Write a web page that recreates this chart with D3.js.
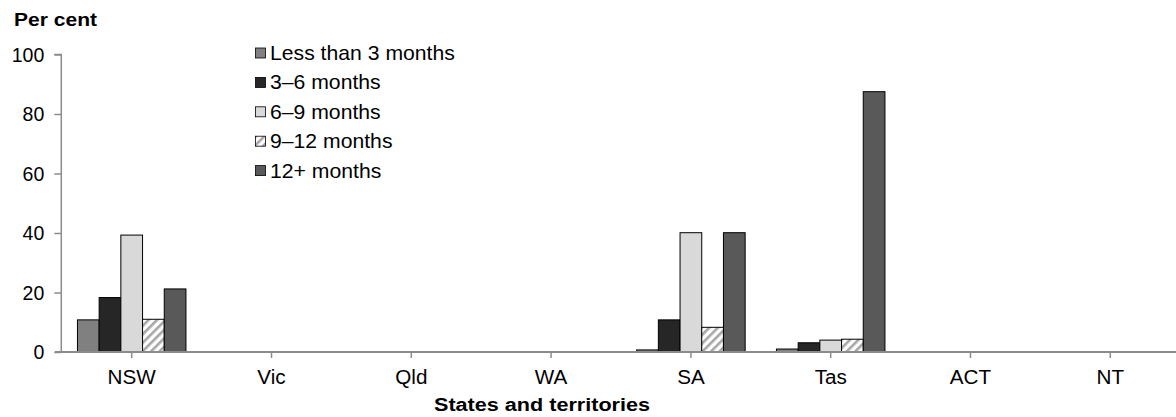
<!DOCTYPE html>
<html>
<head>
<meta charset="utf-8">
<script src="https://cdn.jsdelivr.net/npm/d3@7"></script>
<style>
  html, body { margin: 0; padding: 0; background: #fff; overflow: hidden; }
  svg { display: block; font-family: "Liberation Sans", Arial, sans-serif; }
</style>
</head>
<body>
<svg id="chart" width="1176" height="417"></svg>
<script>
const categories = ["NSW", "Vic", "Qld", "WA", "SA", "Tas", "ACT", "NT"];
const seriesNames = ["Less than 3 months", "3\u20136 months", "6\u20139 months", "9\u201312 months", "12+ months"];
const lessThan3 = [10.8, 0, 0, 0, 0.7, 1.0, 0, 0];
const m3to6     = [18.3, 0, 0, 0, 10.8, 3.1, 0, 0];
const m6to9     = [39.3, 0, 0, 0, 40.1, 4.0, 0, 0];
const m9to12    = [11.0, 0, 0, 0, 8.3, 4.3, 0, 0];
const m12plus   = [21.2, 0, 0, 0, 40.1, 87.5, 0, 0];
const yTicks = [0, 20, 40, 60, 80, 100];

const seriesValues = [lessThan3, m3to6, m6to9, m9to12, m12plus];
const fills = ["#808080", "#262626", "#d9d9d9", "url(#hatch)", "#595959"];

const svg = d3.select("#chart");
const defs = svg.append("defs");
const pat = defs.append("pattern").attr("id", "hatch")
  .attr("patternUnits", "userSpaceOnUse").attr("width", 6).attr("height", 6)
  .attr("patternTransform", "rotate(45)");
pat.append("rect").attr("width", 6).attr("height", 6).attr("fill", "#ffffff");
pat.append("rect").attr("width", 2.6).attr("height", 6).attr("fill", "#a6a6a6");

// stretch a text element horizontally around its anchor point
function stretch(sel, sx) {
  sel.each(function () {
    const t = d3.select(this);
    const ax = +t.attr("x") || 0;
    const prev = t.attr("transform") || "";
    t.attr("transform", `${prev} translate(${ax},0) scale(${sx},1) translate(${-ax},0)`);
  });
}

const x0 = 61.8, catW = 139.8;
const x = d3.scaleBand().domain(categories).range([x0, x0 + catW * categories.length]).padding(0);
const y = d3.scaleLinear().domain([0, 100]).range([352, 54.5]);
const groupPad = (catW - 5 * 21.7) / 2;
const x1 = d3.scaleBand().domain(d3.range(5)).range([groupPad, catW - groupPad]).padding(0);

const axisColor = "#8c8c8c";

// y axis
const yAxis = svg.append("g").attr("transform", `translate(${x0 - 0.5},0)`)
  .call(d3.axisLeft(y).tickValues(yTicks).tickSize(7).tickPadding(10));
yAxis.select(".domain").attr("stroke", axisColor).attr("stroke-width", 1.5).attr("d", `M-7,${y(100)}H0V${y(0)}`);
yAxis.selectAll(".tick line").attr("stroke", axisColor).attr("stroke-width", 1.5);
yAxis.selectAll(".tick text").attr("fill", "#000").style("font-size", "19.5px").attr("dy", "0.35em");

// bars
categories.forEach((c, i) => {
  seriesValues.forEach((vals, s) => {
    const v = vals[i];
    if (v <= 0) return;
    svg.append("rect")
      .attr("x", x(c) + x1(s))
      .attr("y", y(v))
      .attr("width", x1.bandwidth())
      .attr("height", y(0) - y(v))
      .attr("fill", fills[s])
      .attr("stroke", "#000")
      .attr("stroke-width", 1);
  });
});

// x axis
const xAxis = svg.append("g").attr("transform", `translate(0,${y(0)})`)
  .call(d3.axisBottom(x).tickSize(6).tickPadding(12));
xAxis.select(".domain").attr("stroke", axisColor).attr("stroke-width", 2).attr("d", `M${x0 - 7},0H${x0 + catW * 8}`);
xAxis.selectAll(".tick line").attr("stroke", axisColor).attr("stroke-width", 1.5);
xAxis.selectAll(".tick text").attr("fill", "#000").style("font-size", "19.5px")
  .attr("transform", "scale(1.06,1)");

// axis titles
svg.append("text").attr("x", 14).attr("y", 26).text("Per cent")
  .style("font-size", "18px").style("font-weight", "bold")
  .attr("textLength", 83).attr("lengthAdjust", "spacingAndGlyphs");
svg.append("text").attr("x", 542).attr("y", 410.5).attr("text-anchor", "middle").text("States and territories")
  .style("font-size", "18px").style("font-weight", "bold")
  .attr("textLength", 216).attr("lengthAdjust", "spacingAndGlyphs");

// legend
const legend = svg.append("g");
seriesNames.forEach((name, s) => {
  const cy = 53 + s * 29.4;
  legend.append("rect").attr("x", 255.5).attr("y", cy - 5).attr("width", 10).attr("height", 10)
    .attr("fill", fills[s]).attr("stroke", "#000").attr("stroke-width", 0.8);
  legend.append("text").attr("x", 270).attr("y", cy + 7).text(name).style("font-size", "20px")
    .call(stretch, 1.06);
});
</script>
</body>
</html>
